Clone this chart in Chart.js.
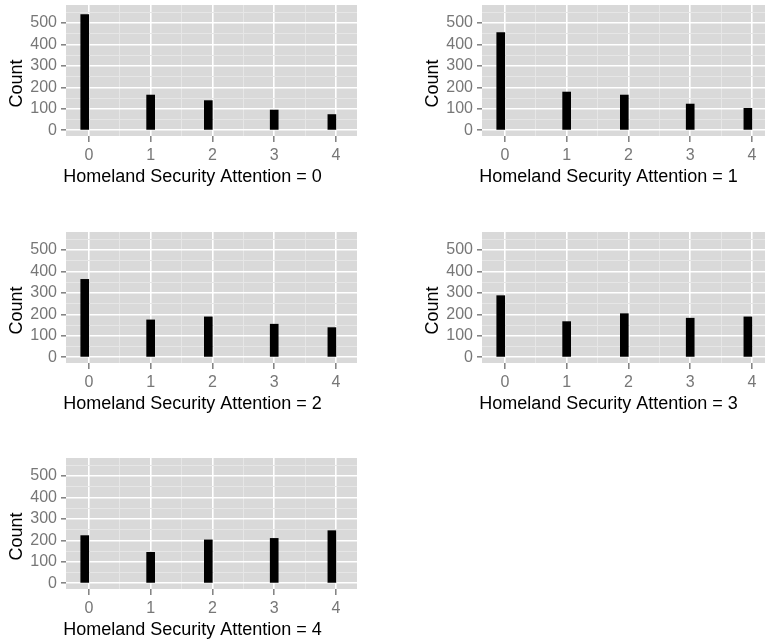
<!DOCTYPE html>
<html>
<head>
<meta charset="utf-8">
<script src="https://cdn.jsdelivr.net/npm/chart.js@4.4.1/dist/chart.umd.min.js"></script>
<style>
  html, body { margin: 0; padding: 0; background: #fff; overflow: hidden; }
  body { width: 765px; height: 640px; position: relative; }
  canvas { position: absolute; }
</style>
</head>
<body>
<canvas id="p0" width="370" height="200" style="left:0;top:0"></canvas>
<canvas id="p1" width="370" height="200" style="left:416px;top:0"></canvas>
<canvas id="p2" width="370" height="200" style="left:0;top:227px"></canvas>
<canvas id="p3" width="370" height="200" style="left:416px;top:227px"></canvas>
<canvas id="p4" width="370" height="200" style="left:0;top:453px"></canvas>
<script>
// valores 0..4 y centro del bin del histograma (ancho 4/30)
const categories = [0, 1, 2, 3, 4];
const binCenters = [-0.0667, 1, 1.9333, 3, 3.9333];

const countsAtt0 = [539, 164, 138, 94, 73];
const countsAtt1 = [455, 178, 164, 122, 102];
const countsAtt2 = [363, 174, 188, 154, 138];
const countsAtt3 = [287, 166, 203, 182, 188];
const countsAtt4 = [222, 144, 202, 209, 245];
const allCounts = [countsAtt0, countsAtt1, countsAtt2, countsAtt3, countsAtt4];

const xTickLabels = [0, 1, 2, 3, 4];
const xGridValues = [0, 0.5, 1, 1.5, 2, 2.5, 3, 3.5, 4];
const yTickLabels = [0, 100, 200, 300, 400, 500];
const yGridValues = [0, 50, 100, 150, 200, 250, 300, 350, 400, 450, 500, 550];

const FONT = '"Liberation Sans", Arial, sans-serif';

// fondo gris del panel
const panelBg = {
  id: "panelBg",
  beforeDraw(chart) {
    const { ctx, chartArea: a } = chart;
    ctx.save();
    ctx.fillStyle = "#d9d9d9";
    ctx.fillRect(a.left, a.top, a.right - a.left, a.bottom - a.top);
    ctx.restore();
  },
};

// titulos de ejes como en ggplot
const facetTitles = {
  id: "facetTitles",
  afterDraw(chart, args, opts) {
    const { ctx, chartArea: a } = chart;
    ctx.save();
    ctx.fillStyle = "#000";
    ctx.font = "18px " + FONT;
    ctx.textAlign = "center";
    ctx.textBaseline = "middle";
    ctx.fillText(opts.xText, (a.left + a.right) / 2 - 19, a.bottom + 41);
    ctx.translate(17, (a.top + a.bottom) / 2 + 13);
    ctx.rotate(-Math.PI / 2);
    ctx.fillText(opts.yText, 0, 0);
    ctx.restore();
  },
};

const tickVal = (c) => (c && c.tick ? c.tick.value : null);
const isMajorX = (v) => xTickLabels.includes(v);
const isMajorY = (v) => yTickLabels.includes(v);

const makePanel = (canvasId, counts, attention) => {
  const ctx = document.getElementById(canvasId).getContext("2d");
  return new Chart(ctx, {
    type: "bar",
    data: {
      datasets: [
        {
          data: binCenters.map((x, i) => ({ x: x, y: counts[i] })),
          backgroundColor: "#000000",
          borderWidth: 0,
          barThickness: 8,
        },
      ],
    },
    options: {
      responsive: false,
      animation: false,
      layout: { padding: { top: 5, right: 13, left: 0, bottom: 0 } },
      plugins: {
        legend: { display: false },
        tooltip: { enabled: false },
        facetTitles: {
          xText: "Homeland Security Attention = " + attention,
          yText: "Count",
        },
      },
      scales: {
        x: {
          type: "linear",
          offset: false,
          min: -0.37,
          max: 4.34,
          afterBuildTicks: (scale) => {
            scale.ticks = xGridValues.map((v) => ({ value: v }));
          },
          afterFit: (scale) => {
            scale.height = 64;
            scale.paddingLeft = 0;
            scale.paddingRight = 0;
          },
          border: { display: false },
          grid: {
            offset: false,
            color: (c) => (isMajorX(tickVal(c)) ? "#ffffff" : "#e6e6e6"),
            lineWidth: (c) => (isMajorX(tickVal(c)) ? 1.6 : 1),
            tickColor: (c) => (isMajorX(tickVal(c)) ? "#7f7f7f" : "rgba(0,0,0,0)"),
            tickWidth: 1.5,
            tickLength: 6,
          },
          ticks: {
            autoSkip: false,
            maxRotation: 0,
            padding: 4,
            color: "#777777",
            font: { family: FONT, size: 16 },
            callback: (v) => (isMajorX(v) ? String(v) : ""),
          },
        },
        y: {
          min: -27,
          max: 584,
          afterBuildTicks: (scale) => {
            scale.ticks = yGridValues.map((v) => ({ value: v }));
          },
          afterFit: (scale) => {
            scale.width = 66;
            scale.paddingTop = 0;
            scale.paddingBottom = 0;
          },
          border: { display: false },
          grid: {
            color: (c) => (isMajorY(tickVal(c)) ? "#ffffff" : "#e6e6e6"),
            lineWidth: (c) => (isMajorY(tickVal(c)) ? 1.6 : 1),
            tickColor: (c) => (isMajorY(tickVal(c)) ? "#7f7f7f" : "rgba(0,0,0,0)"),
            tickWidth: 1.5,
            tickLength: 5,
          },
          ticks: {
            autoSkip: false,
            padding: 4,
            color: "#777777",
            font: { family: FONT, size: 16 },
            callback: (v) => (isMajorY(v) ? String(v) : ""),
          },
        },
      },
    },
    plugins: [panelBg, facetTitles],
  });
};

allCounts.forEach((counts, i) => makePanel("p" + i, counts, i));
</script>
</body>
</html>
